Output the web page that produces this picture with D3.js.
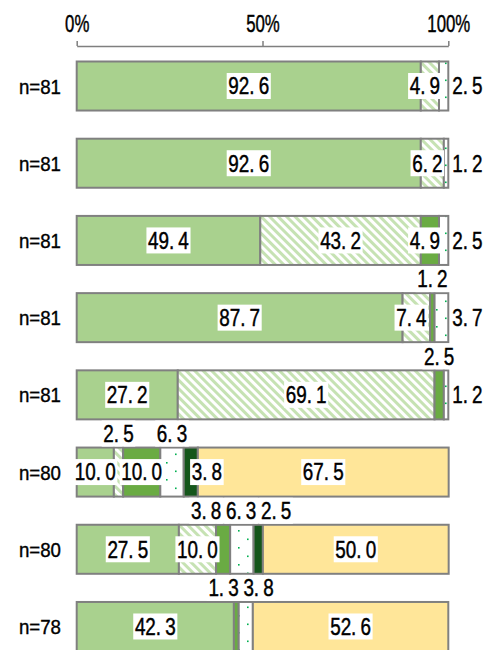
<!DOCTYPE html>
<html><head><meta charset="utf-8">
<script src="https://cdn.jsdelivr.net/npm/d3@7"></script>
<style>
html,body{margin:0;padding:0;background:#fff;}
svg{display:block;font-family:"Liberation Sans",Arial,sans-serif;}
</style></head>
<body><svg id="chart" width="492" height="650"></svg>
<script>
// ---- data ----
const rows = ["n=81","n=81","n=81","n=81","n=81","n=80","n=80","n=78"];
const seriesA = [92.6, 92.6, 49.4, 87.7, 27.2, 10.0, 27.5, 42.3]; // light green
const seriesB = [4.9, 6.2, 43.2, 7.4, 69.1, 2.5, 10.0, 0];        // hatched
const seriesC = [0, 0, 4.9, 1.2, 2.5, 10.0, 3.8, 1.3];            // medium green
const seriesD = [2.5, 1.2, 2.5, 3.7, 1.2, 6.3, 6.3, 3.8];         // dotted
const seriesE = [0, 0, 0, 0, 0, 3.8, 2.5, 0];                     // dark green
const seriesF = [0, 0, 0, 0, 0, 67.5, 50.0, 52.6];                // yellow
const tickValues = [0, 50, 100];
const tickLabels = ["0%", "50%", "100%"];

// label placement per row/series: c=centre, r=right of bar, a=above bar, s=start inside, -=none
const placement = [
  "cc-r--",
  "cc-r--",
  "cccr--",
  "ccar--",
  "ccar--",
  "cacasc",
  "ccaaac",
  "c-aa-c"
];

const series = [seriesA, seriesB, seriesC, seriesD, seriesE, seriesF];
const fills = ["#a9d18e", "url(#hatch)", "#6aab43", "url(#dots)", "#15561b", "#ffe699"];
const SX = 0.82; // horizontal condensing of text

const svg = d3.select("#chart");
const defs = svg.append("defs");
const hatch = defs.append("pattern").attr("id","hatch").attr("patternUnits","userSpaceOnUse")
  .attr("width",6).attr("height",6).attr("patternTransform","rotate(-45)");
hatch.append("rect").attr("width",6).attr("height",6).attr("fill","#fff");
hatch.append("rect").attr("width",3).attr("height",6).attr("fill","#c6e2b3");
const dots = defs.append("pattern").attr("id","dots").attr("patternUnits","userSpaceOnUse")
  .attr("width",18).attr("height",17);
dots.append("rect").attr("width",18).attr("height",17).attr("fill","#fff");
dots.append("rect").attr("x",4).attr("y",3).attr("width",1.6).attr("height",1.6).attr("fill","#00b050");
dots.append("rect").attr("x",13).attr("y",11.5).attr("width",1.6).attr("height",1.6).attr("fill","#00b050");

const x = d3.scaleLinear().domain([0,100]).range([76.7, 448.3]);
const y = d3.scaleBand().domain(d3.range(rows.length)).range([61.5, 651]).paddingInner(0.365).paddingOuter(0);

// axis
const axis = d3.axisTop(x).tickValues(tickValues).tickFormat((d,i)=>tickLabels[i])
  .tickSize(5).tickSizeOuter(0).tickPadding(9);
const ag = svg.append("g").attr("transform","translate(0,46)").call(axis);
ag.selectAll("path,line").attr("stroke","#7f7f7f").attr("stroke-width",1.5);
ag.selectAll("text").attr("font-size",23).attr("fill","#000")
  .attr("stroke","#000").attr("stroke-width",0.45)
  .attr("font-family","'Liberation Sans',Arial,sans-serif")
  .attr("transform","scale(0.73,1)");

// category labels
svg.append("g").selectAll("g").data(rows).join("g")
  .attr("transform",(d,i)=>`translate(61,${y(i)+y.bandwidth()/2}) scale(0.89,1)`)
  .append("text").attr("dy","0.36em")
  .attr("text-anchor","end").attr("font-size",21).attr("fill","#000")
  .attr("stroke","#000").attr("stroke-width",0.4).text(d=>d);

// segments
const segs = [];
rows.forEach((r,i)=>{
  let acc = 0;
  series.forEach((s,k)=>{
    const v = s[i];
    if (v > 0) segs.push({row:i, k, v, x0:acc, x1:acc+v, place:placement[i][k]});
    acc += v;
  });
});
svg.append("g").selectAll("rect").data(segs).join("rect")
  .attr("x",d=>x(d.x0)).attr("width",d=>x(d.x1)-x(d.x0))
  .attr("y",d=>y(d.row)).attr("height",y.bandwidth())
  .attr("fill",d=>fills[d.k]).attr("stroke","#808080").attr("stroke-width",2);

// labels
const DX = 5;
function addLabel(parent, d, cx, cy, anchor){
  const str = d.v.toFixed(1);
  const parts = str.split(".");
  const g = parent.append("g");
  const t = g.append("text").attr("dy","0.36em").attr("font-size",23).attr("fill","#000")
    .attr("stroke","#000").attr("stroke-width",0.45);
  t.append("tspan").text(parts[0] + ".");
  t.append("tspan").attr("dx",DX).text(parts[1]);
  const w = t.node().getComputedTextLength() + DX; // unscaled width
  const ws = w * SX;
  const left = anchor === "start" ? cx : cx - ws/2;
  g.attr("transform",`translate(${left},${cy}) scale(${SX},1)`);
  const pad = 2;
  g.insert("rect","text").attr("x",-pad).attr("y",-13).attr("width",w+pad*2).attr("height",26).attr("fill","#fff");
}
const lg = svg.append("g");
// group above labels per row and spread them apart
const aboveByRow = d3.group(segs.filter(d=>d.place==="a"), d=>d.row);
const minGap = 35;
aboveByRow.forEach((list,row)=>{
  const cs = list.map(d=>(x(d.x0)+x(d.x1))/2);
  for (let it=0; it<50; it++){
    for (let j=1;j<cs.length;j++){
      const gap = cs[j]-cs[j-1];
      if (gap < minGap){ const m=(minGap-gap)/2; cs[j-1]-=m; cs[j]+=m; }
    }
  }
  list.forEach((d,j)=>{ d.lx = cs[j]; });
});
segs.forEach(d=>{
  const cy = y(d.row)+y.bandwidth()/2;
  const mid = (x(d.x0)+x(d.x1))/2;
  if (d.place==="c") addLabel(lg, d, mid + (d.v < 9 ? -5 : 0), cy, "middle");
  else if (d.place==="r") addLabel(lg, d, x(100)+4, cy, "start");
  else if (d.place==="a") addLabel(lg, d, d.lx, y(d.row)-14, "middle");
  else if (d.place==="s") addLabel(lg, d, x(d.x0)+8, cy, "start");
});
</script></body></html>
